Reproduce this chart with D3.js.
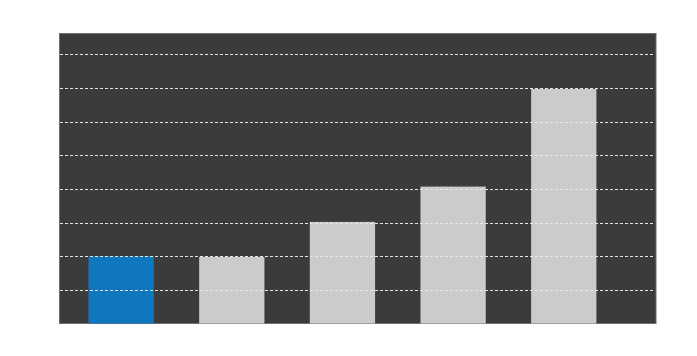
<!DOCTYPE html>
<html>
<head>
<meta charset="utf-8">
<script src="https://cdn.jsdelivr.net/npm/d3@7"></script>
<style>
  body { margin: 0; background: #fff; }
</style>
</head>
<body>
<script>
let width = 697;
let height = 356;

let categories = ['A', 'B', 'C', 'D', 'E'];
let values = [2.0, 1.98, 3.02, 4.07, 6.97];
let barColors = ['#0f77bd', '#cbcbcb', '#cbcbcb', '#cbcbcb', '#cbcbcb'];
let gridTicks = [1, 2, 3, 4, 5, 6, 7, 8];

let plotLeft = 59.5;
let plotRight = 656;
let plotTop = 33.5;
let plotBottom = 323.5;

let svg = d3.select('body').append('svg')
            .attr('width', width)
            .attr('height', height);

let xScale = d3.scaleBand()
                .domain(categories)
                .range([plotLeft, 625.4])
                .paddingInner(0.41)
                .paddingOuter(0.262);

let yScale = d3.scaleLinear()
                .domain([0, 8.62])
                .range([plotBottom, plotTop]);

// plot background
svg.append('rect')
    .attr('x', plotLeft)
    .attr('y', plotTop)
    .attr('width', plotRight - plotLeft)
    .attr('height', plotBottom - plotTop)
    .attr('fill', '#3b3b3b')
    .attr('stroke', '#6e6e6e')
    .attr('stroke-width', 1);

svg.append('g')
    .selectAll('rect')
    .data(values)
    .enter()
    .append('rect')
    .attr('x', function(d, i) { return xScale(categories[i]); })
    .attr('y', function(d) { return yScale(d); })
    .attr('width', xScale.bandwidth())
    .attr('height', function(d) { return plotBottom - yScale(d); })
    .attr('fill', function(d, i) { return barColors[i]; });

// dashed grid drawn on top of the bars
svg.append('g')
    .selectAll('line')
    .data(gridTicks)
    .enter()
    .append('line')
    .attr('x1', plotLeft + 0.5)
    .attr('x2', plotRight - 2)
    .attr('y1', function(d) { return Math.round(yScale(d)) + 0.5; })
    .attr('y2', function(d) { return Math.round(yScale(d)) + 0.5; })
    .attr('stroke', '#e6e6e6')
    .attr('stroke-width', 1)
    .attr('stroke-dasharray', '3,2');
</script>
</body>
</html>
